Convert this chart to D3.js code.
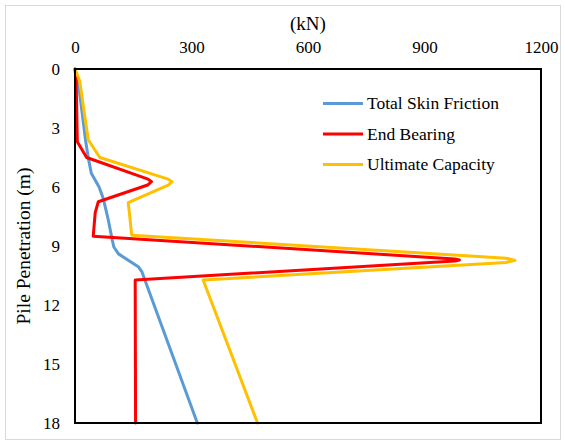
<!DOCTYPE html>
<html>
<head>
<meta charset="utf-8">
<script src="https://cdn.jsdelivr.net/npm/d3@7"></script>
</head>
<body style="margin:0; background:#fff">
<svg width="565" height="443" font-family="Liberation Serif"></svg>
<script>
// depth (m) and force (kN)
var skinDepth = [0, 0.6, 3.6, 4.5, 5.3, 6.0, 6.6, 7.7, 8.7, 9.05, 9.4, 10.05, 10.3, 18];
var skinForce = [0, 8, 27, 34, 42, 62, 73, 86, 96, 100, 112, 163, 172, 315];

var endDepth = [0, 0.6, 3.7, 4.5, 5.6, 5.73, 5.9, 6.75, 7.3, 8.5, 9.66, 9.71, 9.76, 10.73, 18];
var endForce = [0, 3, 6, 30, 188, 197, 187, 60, 52, 47, 978, 990, 978, 155, 156];

var ultDepth = [0, 0.6, 3.6, 4.5, 5.6, 5.73, 5.9, 6.8, 7.3, 8.45, 9.62, 9.73, 9.84, 10.73, 18];
var ultForce = [0, 12, 34, 64, 240, 250, 240, 137, 140, 146, 1110, 1133, 1110, 330, 470];

var xTicks = [0, 300, 600, 900, 1200];
var yTicks = [0, 3, 6, 9, 12, 15, 18];

var seriesNames = ["Total Skin Friction", "End Bearing", "Ultimate Capacity"];
var seriesColors = ["#5B9BD5", "#FF0000", "#FFC000"];

var font = "Liberation Serif";

var svg = d3.select("svg"),
    margin = { top: 69, right: 24, bottom: 20, left: 75 },
    width = +svg.attr("width") - margin.left - margin.right,
    height = +svg.attr("height") - margin.top - margin.bottom;

// outer frame of the chart
svg.append("rect")
    .attr("x", 5.5).attr("y", 5.5)
    .attr("width", 555).attr("height", 434)
    .attr("fill", "#fff")
    .attr("stroke", "#d9d9d9");

var g = svg.append("g").attr("transform", "translate(" + margin.left + "," + margin.top + ")");

var x = d3.scaleLinear().domain([0, 1200]).range([0, width]);
var y = d3.scaleLinear().domain([0, 18]).range([0, height]);

// top axis, labels only
g.append("g")
    .call(d3.axisTop(x).tickValues(xTicks).tickFormat(d3.format("d")).tickSize(0).tickPadding(16))
    .attr("font-family", font)
    .attr("font-size", 17)
    .call(function (a) { a.select(".domain").remove(); })
    .selectAll("text")
    .attr("fill", "#000");

g.append("g")
    .call(d3.axisLeft(y).tickValues(yTicks).tickSize(0).tickPadding(15))
    .attr("font-family", font)
    .attr("font-size", 17)
    .call(function (a) { a.select(".domain").remove(); })
    .selectAll("text")
    .attr("fill", "#000");

svg.append("text")
    .attr("x", margin.left + width / 2)
    .attr("y", 30)
    .attr("text-anchor", "middle")
    .attr("font-family", font)
    .attr("font-size", 19)
    .text("(kN)");

svg.append("text")
    .attr("transform", "translate(30," + (margin.top + height / 2) + ") rotate(-90)")
    .attr("text-anchor", "middle")
    .attr("font-family", font)
    .attr("font-size", 19.5)
    .text("Pile Penetration (m)");

var series = [
    { name: seriesNames[0], color: seriesColors[0], depth: skinDepth, force: skinForce },
    { name: seriesNames[1], color: seriesColors[1], depth: endDepth, force: endForce },
    { name: seriesNames[2], color: seriesColors[2], depth: ultDepth, force: ultForce }
];

var line = d3.line()
    .x(function (d) { return x(d[0]); })
    .y(function (d) { return y(d[1]); });

g.selectAll(".series")
    .data(series)
    .enter().append("path")
    .attr("class", "series")
    .attr("fill", "none")
    .attr("stroke", function (d) { return d.color; })
    .attr("stroke-width", 3)
    .attr("stroke-linejoin", "round")
    .attr("stroke-linecap", "round")
    .attr("d", function (d) {
        return line(d.force.map(function (f, i) { return [f, d.depth[i]]; }));
    });

// plot border
g.append("rect")
    .attr("width", width).attr("height", height)
    .attr("fill", "none")
    .attr("stroke", "#000")
    .attr("stroke-width", 2);

var legend = svg.append("g")
    .selectAll("g")
    .data(series)
    .enter().append("g")
    .attr("transform", function (d, i) { return "translate(323," + (103.5 + i * 30.5) + ")"; });

legend.append("line")
    .attr("x2", 40)
    .attr("stroke", function (d) { return d.color; })
    .attr("stroke-width", 3);

legend.append("text")
    .attr("x", 44)
    .attr("dy", "0.32em")
    .attr("font-family", font)
    .attr("font-size", 17.5)
    .text(function (d) { return d.name; });
</script>
</body>
</html>
